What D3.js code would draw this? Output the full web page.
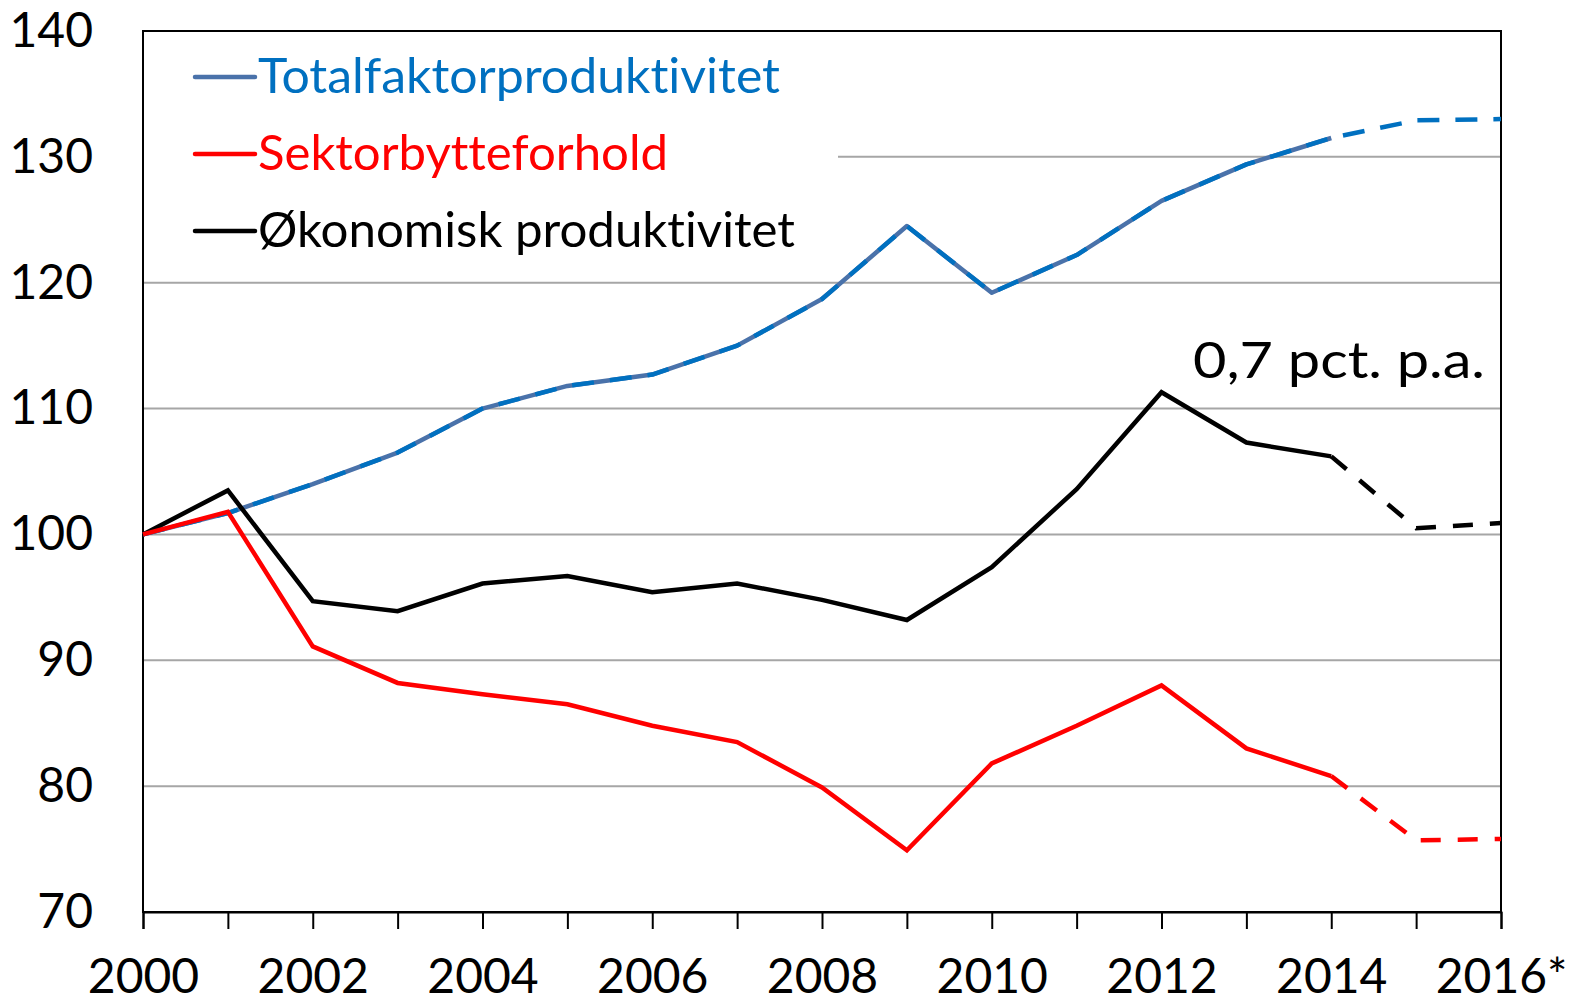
<!DOCTYPE html>
<html lang="no">
<head>
<meta charset="utf-8">
<script src="https://d3js.org/d3.v7.min.js"></script>
<style>
  body { margin: 0; background: #fff; }
  text { font-family: Lato, "Noto Sans", sans-serif; font-variant-ligatures: none; }
</style>
</head>
<body>
<div id="chart"></div>
<script>
// data
const years = [2000, 2001, 2002, 2003, 2004, 2005, 2006, 2007, 2008, 2009, 2010, 2011, 2012, 2013, 2014, 2015, 2016];
const tfp = [100, 101.7, 104.0, 106.5, 110.0, 111.8, 112.7, 115.0, 118.7, 124.5, 119.2, 122.2, 126.5, 129.4, 131.5, 132.9, 133.0];
const sektor = [100, 101.8, 91.1, 88.2, 87.3, 86.5, 84.8, 83.5, 79.9, 74.9, 81.8, 84.8, 88.0, 83.0, 80.8, 75.7, 75.8];
const okon = [100, 103.5, 94.7, 93.9, 96.1, 96.7, 95.4, 96.1, 94.8, 93.2, 97.4, 103.6, 111.3, 107.3, 106.2, 100.5, 100.9];
const yTicks = [70, 80, 90, 100, 110, 120, 130, 140];
const xLabels = ["2000", "2002", "2004", "2006", "2008", "2010", "2012", "2014", "2016*"];
const lastActual = 2014;
const seriesNames = ["Totalfaktorproduktivitet", "Sektorbytteforhold", "Økonomisk produktivitet"];
const annotation = "0,7 pct. p.a.";

const W = 1569, H = 1003;
const margin = {top: 31, right: 68, bottom: 91, left: 143};
const width = W - margin.left - margin.right;
const height = H - margin.top - margin.bottom;

const svg = d3.select("#chart").append("svg")
  .attr("width", W).attr("height", H);
const g = svg.append("g")
  .attr("transform", "translate(" + margin.left + "," + margin.top + ")");

const x = d3.scaleLinear().domain([2000, 2016]).range([0, width]);
const y = d3.scaleLinear().domain([70, 140]).range([height, 0]);

// gridlines
g.selectAll(".grid").data(yTicks.slice(1, -1)).enter().append("line")
  .attr("x1", 0).attr("x2", width)
  .attr("y1", d => y(d)).attr("y2", d => y(d))
  .attr("stroke", "#a6a6a6").attr("stroke-width", 2);

// legend background hides part of the grid
g.append("rect").attr("x", 1).attr("y", 1).attr("width", 694).attr("height", 230).attr("fill", "#fff");

// frame
g.append("rect").attr("x", 0).attr("y", 0).attr("width", width).attr("height", height)
  .attr("fill", "none").attr("stroke", "#000").attr("stroke-width", 2);

// x axis
const xAxis = g.append("g").attr("transform", "translate(0," + height + ")")
  .call(d3.axisBottom(x).tickValues(years).tickSize(17).tickFormat((d, i) => i % 2 === 0 ? xLabels[i / 2] : ""));
xAxis.select(".domain").attr("stroke", "#000").attr("stroke-width", 2);
xAxis.selectAll(".tick line").attr("stroke", "#000").attr("stroke-width", 2);
xAxis.selectAll(".tick text").attr("font-size", 48).attr("fill", "#000").attr("dy", 0).attr("y", 81)
  .attr("font-family", "Lato, sans-serif");
xAxis.selectAll(".tick").filter(d => d === 2016).select("text").attr("text-anchor", "end").attr("x", 66);

// y axis
const yAxis = g.append("g")
  .call(d3.axisLeft(y).tickValues(yTicks).tickSize(0).tickPadding(50));
yAxis.select(".domain").remove();
yAxis.selectAll(".tick text").attr("font-size", 48).attr("fill", "#000").attr("font-family", "Lato, sans-serif");

// lines
const pts = vals => years.map((yr, i) => ({yr: yr, v: vals[i]}));
const line = d3.line().x(d => x(d.yr)).y(d => y(d.v));
const actual = vals => pts(vals).filter(d => d.yr <= lastActual);
const forecast = vals => pts(vals).filter(d => d.yr >= lastActual);

// TFP: steel blue solid with blue dashes on top
g.append("path").attr("d", line(actual(tfp))).attr("fill", "none")
  .attr("stroke", "#4a72aa").attr("stroke-width", 4.5).attr("stroke-linejoin", "round");
g.append("path").attr("d", line(pts(tfp))).attr("fill", "none")
  .attr("stroke", "#0070c0").attr("stroke-width", 4.5).attr("stroke-dasharray", "22,16").attr("stroke-linejoin", "round");

// black
g.append("path").attr("d", line(actual(okon))).attr("fill", "none")
  .attr("stroke", "#000").attr("stroke-width", 4.5);
g.append("path").attr("d", line(forecast(okon))).attr("fill", "none")
  .attr("stroke", "#000").attr("stroke-width", 4.5).attr("stroke-dasharray", "20,17");

// red
g.append("path").attr("d", line(actual(sektor))).attr("fill", "none")
  .attr("stroke", "#ff0000").attr("stroke-width", 4.5);
g.append("path").attr("d", line(forecast(sektor))).attr("fill", "none")
  .attr("stroke", "#ff0000").attr("stroke-width", 4.5).attr("stroke-dasharray", "20,17");

// legend
const legColors = ["#4a72aa", "#ff0000", "#000"];
const legText = ["#0070c0", "#ff0000", "#000"];
const legWidths = [522, 410, 537];
const leg = g.selectAll(".leg").data(seriesNames).enter().append("g")
  .attr("transform", (d, i) => "translate(52," + (46 + i * 77) + ")");
leg.append("line").attr("x1", 0).attr("x2", 60).attr("y1", 0).attr("y2", 0)
  .attr("stroke", (d, i) => legColors[i]).attr("stroke-width", 4.5).attr("stroke-linecap", "round");
leg.append("text").attr("x", 63).attr("y", 16).attr("font-size", 48)
  .attr("textLength", (d, i) => legWidths[i]).attr("lengthAdjust", "spacingAndGlyphs")
  .attr("fill", (d, i) => legText[i]).text(d => d);

// annotation
g.append("text").attr("x", width - 308).attr("y", 347)
  .attr("textLength", 292).attr("lengthAdjust", "spacingAndGlyphs")
  .attr("font-size", 50).attr("fill", "#000").text(annotation);
</script>
</body>
</html>
